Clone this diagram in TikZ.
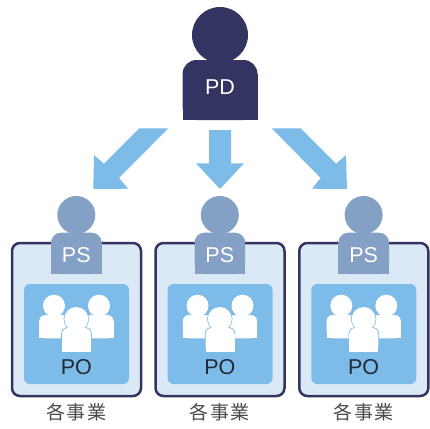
\documentclass[tikz,border=0pt]{standalone}
\usepackage{fontspec}
\setmainfont{Liberation Sans}
\newfontfamily\cjk[LetterSpace=9]{Noto Sans CJK JP}
\definecolor{navy}{HTML}{333461}
\definecolor{steel}{HTML}{84A0C5}
\definecolor{sky}{HTML}{7DBCE8}
\definecolor{pale}{HTML}{DBE9F7}
\definecolor{ink}{HTML}{222A35}
\definecolor{capt}{HTML}{4A4A4A}
\tikzset{
  blockarrow/.style={fill=sky,draw=none},
  cardbox/.style={fill=pale,draw=navy,line width=2.5pt,rounded corners=8pt},
  innerbox/.style={fill=sky,draw=none,rounded corners=6pt},
  lab/.style={inner sep=0pt,font=\fontsize{21.5}{21.5}\selectfont},
  captxt/.style={inner sep=0pt,text=capt,font=\cjk\fontsize{19}{19}\selectfont},
}
% body: rounded top corners, square bottom corners
\newcommand{\tophat}[6]{%
  \fill[#1,rounded corners=#6pt] (#2,#3) rectangle (#4,#5);
  \fill[#1] (#2,#3+#6) rectangle (#4,#5);}
\newcommand{\unitgroup}[2]{%
\begin{scope}[xshift=#1pt]
  \draw[cardbox] (12,243) rectangle (141,396);
  \fill[steel] (76.3,215) circle (19);
  \tophat{steel}{51}{232.7}{101.7}{274}{10}
  \node[lab,text=white] (ps#2) at (76.3,255) {PS};
  \fill[innerbox] (24,284) rectangle (129,384);
  \fill[white] (54,305.7) circle (11);
  \fill[white] (99,305.7) circle (11);
  \tophat{white}{39.3}{315}{68}{338.3}{6}
  \tophat{white}{85}{315}{113.5}{338.3}{6}
  \fill[sky] (76.3,319) circle (12.7);
  \tophat{sky}{61.3}{327.3}{91.7}{352}{6}
  \fill[white] (76.3,319) circle (12);
  \tophat{white}{62}{328}{91}{351.7}{6}
  \node[lab,text=ink] (po#2) at (76.3,366.7) {PO};
  \node[captxt] (c#2) at (76.3,412.7) {各事業};
\end{scope}}
\begin{document}
\begin{tikzpicture}[x=1pt,y=-1pt]
\useasboundingbox (0,0) rectangle (430,428);
\fill[navy] (220,35) circle (28);
\tophat{navy}{182.5}{60}{257.5}{120}{14}
\node[lab,text=white] (pd) at (220,87) {PD};
\fill[blockarrow] (139.3,128.3) -- (168.3,128.3) -- (119,178) -- (128.3,188.7) -- (93.3,189) -- (94,155) -- (104,163.7) -- cycle;
\fill[blockarrow] (209,130) -- (231,130) -- (231,163.3) -- (244,163.3) -- (220,189) -- (196,163.3) -- (209,163.3) -- cycle;
\fill[blockarrow] (300.7,128.3) -- (271.7,128.3) -- (320.7,178) -- (312,188.7) -- (347,189) -- (346,155) -- (336,163.7) -- cycle;
\unitgroup{0}{a}
\unitgroup{143.5}{b}
\unitgroup{287.3}{c}
\end{tikzpicture}
\end{document}
